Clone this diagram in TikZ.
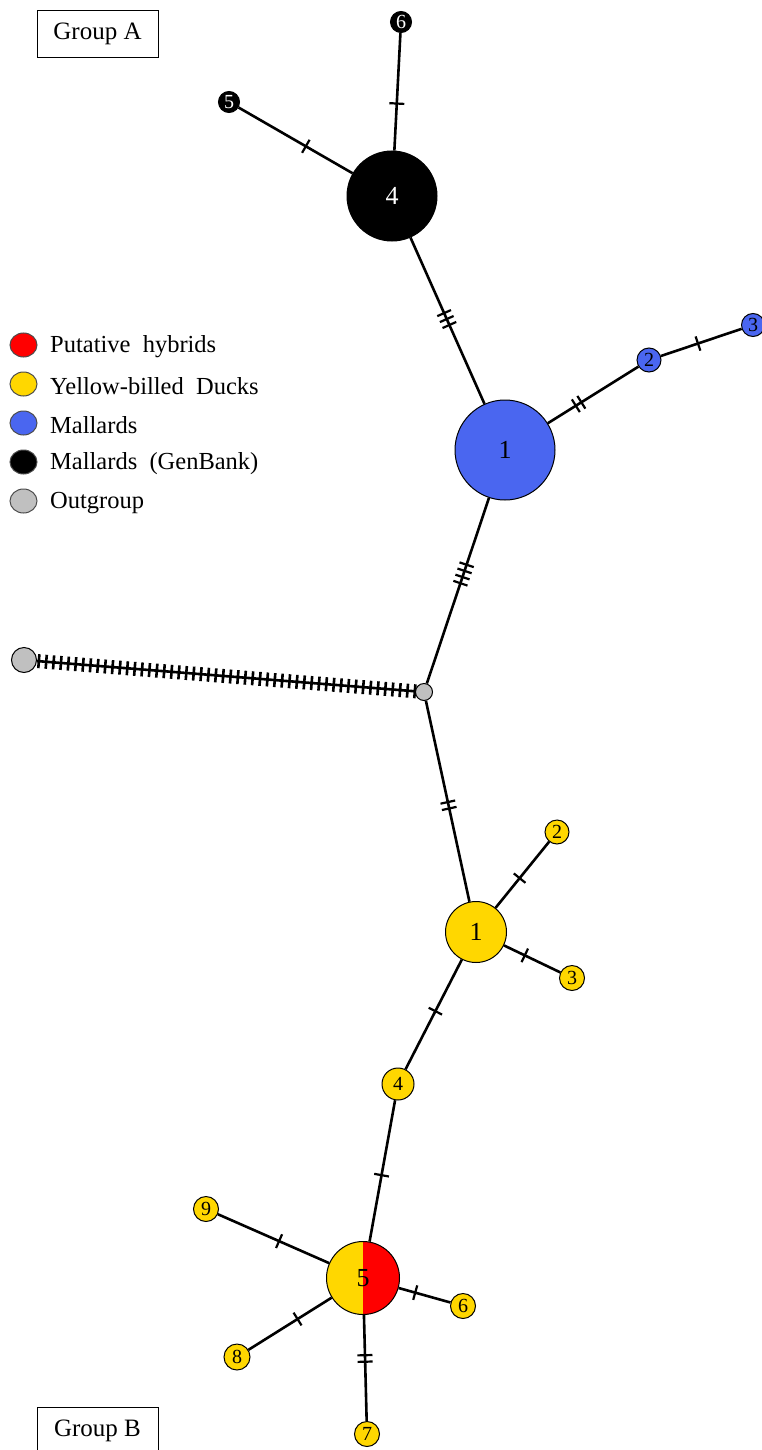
\documentclass[tikz,border=0pt]{standalone}
\usepackage{fontspec}
\setmainfont{Liberation Serif}
\usetikzlibrary{decorations.markings,shapes.geometric,backgrounds}

\definecolor{ydk}{HTML}{FFD700}
\definecolor{mblue}{HTML}{4A66F0}
\definecolor{ogray}{HTML}{C0C0C0}
\definecolor{hred}{HTML}{FF0000}

\tikzset{
  hap/.style={circle, draw=black, line width=1pt, inner sep=0pt, minimum size=#1,
              font=\fontsize{20}{20}\selectfont},
  bighap/.style={hap=#1, font=\fontsize{26}{26}\selectfont},
  gen/.style={fill=black, text=white},
  mal/.style={fill=mblue},
  ybd/.style={fill=ydk},
  outgrp/.style={fill=ogray},
  edge/.style={line width=2.6pt},
  tk/.style={line width=2.2pt},
  ticks/.style 2 args={postaction={decorate, decoration={markings,
      mark=at position #1 with {\foreach \k in {1,...,#2}{
        \draw[tk] ({(\k-(#2+1)/2)*6.5pt},-7.5pt) -- ({(\k-(#2+1)/2)*6.5pt},7.5pt);}}}}},
  manyticks/.style={postaction={decorate, decoration={markings,
      mark=between positions 0.005 and 1 step 0.0195 with {\draw[line width=2.6pt] (0,-7pt) -- (0,7pt);}}}},
  grpbox/.style={draw, line width=0.9pt, minimum width=121pt, minimum height=47pt,
                 inner sep=0pt, font=\fontsize{25}{25}\selectfont},
  legmark/.style={ellipse, draw=black!70, line width=1pt, minimum width=27pt,
                  minimum height=24pt, inner sep=0pt},
  legtext/.style={anchor=west, inner sep=0pt, font=\fontsize{24.5}{24.5}\selectfont},
}

\begin{document}
\begin{tikzpicture}[x=1pt,y=-1pt]
\useasboundingbox (0,0) rectangle (762,1450);
\clip (0,0) rectangle (762,1450);

% group labels
\node[grpbox] (ga) at (97.5,33.5) {Group A};
\node[grpbox] (gb) at (97.5,1430.5) {Group B};

% legend
\node[legmark, fill=hred]  (l1) at (23.5,345) {};
\node[legmark, fill=ydk]   (l2) at (23.5,384) {};
\node[legmark, fill=mblue] (l3) at (23.5,423) {};
\node[legmark, fill=black] (l4) at (23.5,462) {};
\node[legmark, fill=ogray] (l5) at (23.5,501) {};
\node[legtext] (t1) at (50,347) {Putative\ \ hybrids};
\node[legtext] (t2) at (50,386) {Yellow-billed\ \ Ducks};
\node[legtext] (t3) at (50,425) {Mallards};
\node[legtext] (t4) at (50,464) {Mallards\ \ (GenBank)};
\node[legtext] (t5) at (50,503) {Outgroup};

% haplotypes: Mallards (GenBank)
\node[hap=21pt, gen] (b6) at (401,22) {6};
\node[hap=21pt, gen] (b5) at (229,102) {5};
\node[bighap=90pt, gen] (b4) at (392,196) {4};

% haplotypes: Mallards
\node[bighap=100pt, mal] (m1) at (505,450) {1};
\node[hap=24pt, mal] (m2) at (649,360) {2};
\node[hap=23pt, mal] (m3) at (753,325) {3};

% median vector and outgroup
\node[hap=17pt, outgrp] (med) at (424,692) {};
\node[hap=25pt, outgrp] (og) at (24,660) {};

% haplotypes: Yellow-billed Ducks and hybrids
\node[bighap=61pt, ybd] (y1) at (476,932) {1};
\node[hap=24pt, ybd] (y2) at (557,832) {2};
\node[hap=25pt, ybd] (y3) at (572,978) {3};
\node[hap=32pt, ybd] (y4) at (398,1084) {4};
\node[bighap=73pt, ybd, path picture={\fill[hred] (path picture bounding box.north)
      rectangle (path picture bounding box.south east);}] (y5) at (363,1278) {5};
\node[hap=25pt, ybd] (y6) at (463,1306) {6};
\node[hap=25pt, ybd] (y7) at (367,1434) {7};
\node[hap=26pt, ybd] (y8) at (237,1357) {8};
\node[hap=25pt, ybd] (y9) at (206,1209) {9};

% mutational steps
\begin{scope}[on background layer]
\draw[edge, ticks={0.4}{1}]  (b4) -- (b6);
\draw[edge, ticks={0.41}{1}] (b4) -- (b5);
\draw[edge, ticks={0.49}{3}] (b4) -- (m1);
\draw[edge, ticks={0.34}{2}] (m1) -- (m2);
\draw[edge, ticks={0.46}{1}] (m2) -- (m3);
\draw[edge, ticks={0.41}{4}] (m1) -- (med);
\draw[edge, manyticks]       (og) -- (med);
\draw[edge, ticks={0.52}{2}] (med) -- (y1);
\draw[edge, ticks={0.45}{1}] (y1) -- (y2);
\draw[edge, ticks={0.37}{1}] (y1) -- (y3);
\draw[edge, ticks={0.47}{1}] (y1) -- (y4);
\draw[edge, ticks={0.53}{1}] (y4) -- (y5);
\draw[edge, ticks={0.45}{1}] (y5) -- (y9);
\draw[edge, ticks={0.41}{1}] (y5) -- (y8);
\draw[edge, ticks={0.32}{1}] (y5) -- (y6);
\draw[edge, ticks={0.41}{2}] (y5) -- (y7);
\end{scope}
\end{tikzpicture}
\end{document}
